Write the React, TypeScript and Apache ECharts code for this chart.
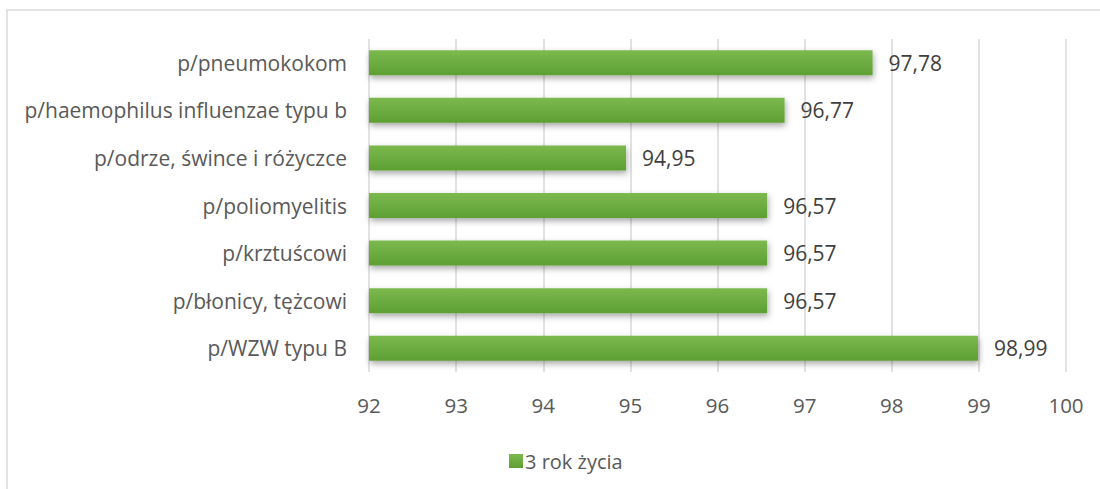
import React, { useEffect, useRef } from "react";
import * as echarts from "echarts";

const categories = [
  "p/pneumokokom",
  "p/haemophilus influenzae typu b",
  "p/odrze, śwince i różyczce",
  "p/poliomyelitis",
  "p/krztuścowi",
  "p/błonicy, tężcowi",
  "p/WZW typu B",
];
const values = [97.78, 96.77, 94.95, 96.57, 96.57, 96.57, 98.99];
const seriesName = "3 rok życia";
const xMin = 92;
const xMax = 100;

const FONT = "Open Sans";

export default function App() {
  const ref = useRef<HTMLDivElement>(null);
  useEffect(() => {
    if (!ref.current) return;
    const chart = echarts.init(ref.current, undefined, { renderer: "svg" });
    chart.setOption({
      animation: false,
      textStyle: { fontFamily: FONT },
      graphic: [
        {
          type: "rect",
          shape: { x: 7, y: 10, width: 1100, height: 500 },
          style: { fill: "none", stroke: "#d9d9d9", lineWidth: 1.5 },
          silent: true,
        },
      ],
      grid: { left: 369, right: 34, top: 39, bottom: 117, containLabel: false },
      legend: {
        left: 504,
        top: 446,
        itemWidth: 14,
        itemHeight: 14,
        itemGap: 4,
        icon: "rect",
        textStyle: { fontFamily: FONT, fontSize: 20, color: "#595959", padding: [0, 0, 0, -3] },
        data: [seriesName],
      },
      xAxis: {
        type: "value",
        min: xMin,
        max: xMax,
        interval: 1,
        axisLine: { show: false },
        axisTick: { show: false },
        splitLine: { lineStyle: { color: "#d9d9d9", width: 1.5 } },
        axisLabel: { fontFamily: FONT, fontSize: 20.5, color: "#595959", margin: 22 },
      },
      yAxis: {
        type: "category",
        inverse: true,
        data: categories,
        axisLine: { show: false },
        axisTick: { show: false },
        axisLabel: { fontFamily: FONT, fontSize: 21, color: "#595959", margin: 22 },
      },
      series: [
        {
          name: seriesName,
          type: "bar",
          data: values,
          barWidth: 25,
          itemStyle: {
            color: new echarts.graphic.LinearGradient(0, 0, 0, 1, [
              { offset: 0, color: "#7cb94f" },
              { offset: 1, color: "#5e9f33" },
            ]),
            shadowColor: "rgba(0,0,0,0.35)",
            shadowBlur: 6,
            shadowOffsetY: 3,
            shadowOffsetX: 1,
          },
          label: {
            show: true,
            position: "right",
            distance: 16,
            fontFamily: FONT,
            fontSize: 21,
            color: "#404040",
            formatter: (p: any) => p.value.toFixed(2).replace(".", ","),
          },
        },
      ],
    });
    return () => chart.dispose();
  }, []);
  return (
    <div
      ref={ref}
      style={{ position: "absolute", left: 0, top: 0, width: 1100, height: 489, background: "#fff" }}
    />
  );
}
